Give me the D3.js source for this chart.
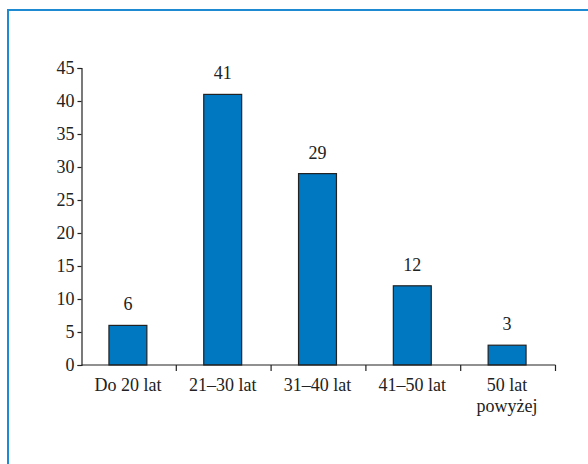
<!DOCTYPE html>
<html>
<head>
<meta charset="utf-8">
<script src="https://cdn.jsdelivr.net/npm/d3@7"></script>
<style>
  html, body { margin: 0; padding: 0; background: #fff; }
  svg { display: block; }
</style>
</head>
<body>
<script>
// Age groups and respondent counts
const categories = ["Do 20 lat", "21–30 lat", "31–40 lat", "41–50 lat", "50 lat|powyżej"];
const values = [6, 41, 29, 12, 3];
const yTicks = [0, 5, 10, 15, 20, 25, 30, 35, 40, 45];

const W = 588, H = 464;
const FONT = '"Liberation Serif"';
const FS = "18px";
const INK = "#222";
const svg = d3.select("body").append("svg").attr("width", W).attr("height", H);

// Outer frame
svg.append("rect")
  .attr("x", 8).attr("y", 10)
  .attr("width", W).attr("height", H)
  .attr("fill", "none")
  .attr("stroke", "#1e8ad2")
  .attr("stroke-width", 2);

const x = d3.scaleBand().domain(categories).range([81.5, 555.5]).paddingInner(0).paddingOuter(0);
const y = d3.scaleLinear().domain([0, 45]).range([365, 68]);

const g = svg.append("g");

// Bars
const barW = x.bandwidth() * 0.4;
g.selectAll("rect.bar").data(values).join("rect")
  .attr("class", "bar")
  .attr("x", (d, i) => x(categories[i]) + (x.bandwidth() - barW) / 2 - 1)
  .attr("y", d => y(d))
  .attr("width", barW)
  .attr("height", d => y(0) - y(d))
  .attr("fill", "#0077c1")
  .attr("stroke", INK)
  .attr("stroke-width", 1.2);

// Value labels
g.selectAll("text.val").data(values).join("text")
  .attr("class", "val")
  .attr("x", (d, i) => x(categories[i]) + x.bandwidth() / 2 - 1)
  .attr("y", d => y(d) - 15)
  .attr("text-anchor", "middle")
  .style("font-family", FONT)
  .style("font-size", FS)
  .style("fill", INK)
  .text(d => d);

// Y axis
const yAxis = g.append("g").attr("transform", "translate(81.5,0)")
  .call(d3.axisLeft(y).tickValues(yTicks).tickSize(4).tickPadding(3));
yAxis.select(".domain").attr("stroke", INK).attr("stroke-width", 1.2);
yAxis.selectAll(".tick line").attr("stroke", INK).attr("stroke-width", 1.2);
yAxis.selectAll(".tick text")
  .style("font-family", FONT)
  .style("font-size", FS)
  .style("fill", INK);

// X axis: ticks at category boundaries
const xAxis = g.append("g").attr("transform", "translate(0,365)");
xAxis.append("line")
  .attr("x1", x.range()[0]).attr("x2", x.range()[1])
  .attr("stroke", INK).attr("stroke-width", 1.2);
const bounds = categories.map(c => x(c)).concat([x.range()[1]]);
xAxis.selectAll("line.tk").data(bounds.slice(1)).join("line")
  .attr("class", "tk")
  .attr("x1", d => d).attr("x2", d => d)
  .attr("y1", 0).attr("y2", 6)
  .attr("stroke", INK).attr("stroke-width", 1.2);

xAxis.selectAll("text.cat").data(categories).join("text")
  .attr("class", "cat")
  .attr("text-anchor", "middle")
  .style("font-family", FONT)
  .style("font-size", FS)
  .style("fill", INK)
  .each(function(c) {
    const lines = c.split("|");
    const t = d3.select(this);
    lines.forEach((ln, k) => {
      t.append("tspan")
        .attr("x", x(c) + x.bandwidth() / 2 - 1)
        .attr("y", 26 + k * 21)
        .text(ln);
    });
  });
</script>
</body>
</html>
